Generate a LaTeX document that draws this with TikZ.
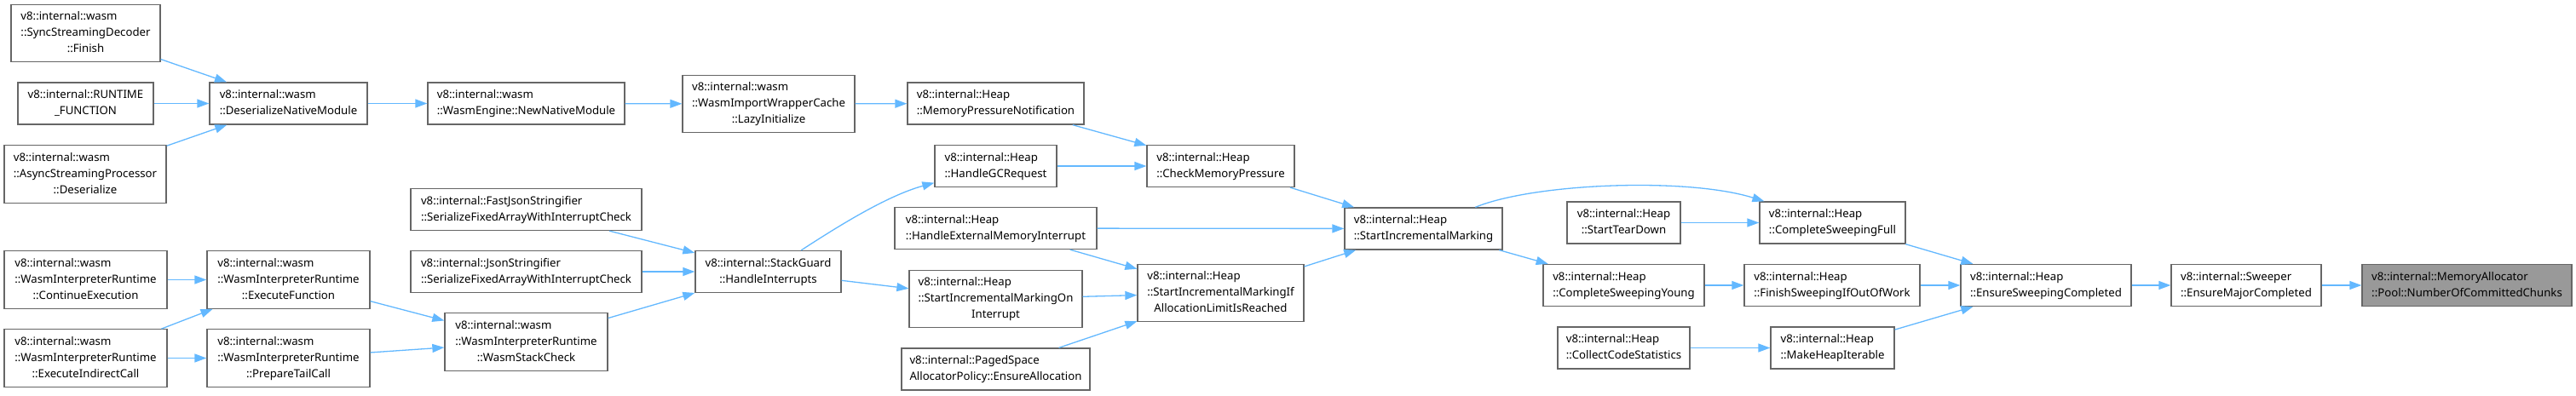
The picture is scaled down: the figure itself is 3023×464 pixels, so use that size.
\documentclass[tikz,border=0pt]{standalone}
\usepackage{fontspec}
\setmainfont{Noto Sans}
\usetikzlibrary{arrows.meta}
\definecolor{edgeblue}{HTML}{63B8FF}
\definecolor{boxgray}{HTML}{666666}
\definecolor{curgray}{HTML}{999999}
\newcommand{\fnl}[2]{\begin{tabular}{@{}l@{}}#1\\\multicolumn{1}{@{}c@{}}{#2}\end{tabular}}
\begin{document}
\begin{tikzpicture}[x=1pt, y=1pt, font=\fontsize{13.2}{19}\selectfont,
          >={Triangle[length=14pt,width=10pt]},
          fnbox/.style={draw=boxgray, line width=1.3pt, fill=white, inner sep=0pt, minimum height=49pt},
          tall/.style={minimum height=67.5pt},
          curfn/.style={fnbox, fill=curgray},
          call/.style={->, draw=edgeblue, line width=1.3pt}]
        \useasboundingbox (0,0) rectangle (3023,-464);
        \node[fnbox, tall, minimum width=175pt] (ssd) at (100.5,-39) {\fnl{v8::internal::wasm\\::SyncStreamingDecoder}{::Finish}};
        \node[fnbox, minimum width=159pt] (rtf) at (100.5,-121.5) {\fnl{v8::internal::RUNTIME}{\_FUNCTION}};
        \node[fnbox, tall, minimum width=190pt] (asp) at (100,-204.5) {\fnl{v8::internal::wasm\\::AsyncStreamingProcessor}{::Deserialize}};
        \node[fnbox, tall, minimum width=191pt] (contexec) at (100.5,-328.5) {\fnl{v8::internal::wasm\\::WasmInterpreterRuntime}{::ContinueExecution}};
        \node[fnbox, tall, minimum width=191pt] (indcall) at (100.5,-420.5) {\fnl{v8::internal::wasm\\::WasmInterpreterRuntime}{::ExecuteIndirectCall}};
        \node[fnbox, minimum width=185pt] (dnm) at (338.5,-121.5) {\fnl{v8::internal::wasm}{::DeserializeNativeModule}};
        \node[fnbox, tall, minimum width=191pt] (execfn) at (338.5,-328.5) {\fnl{v8::internal::wasm\\::WasmInterpreterRuntime}{::ExecuteFunction}};
        \node[fnbox, tall, minimum width=191pt] (tailcall) at (338.5,-420.5) {\fnl{v8::internal::wasm\\::WasmInterpreterRuntime}{::PrepareTailCall}};
        \node[fnbox, minimum width=231pt] (nnm) at (617.5,-121.5) {\fnl{v8::internal::wasm}{::WasmEngine::NewNativeModule}};
        \node[fnbox, minimum width=271pt] (fastjson) at (617.5,-246) {\fnl{v8::internal::FastJsonStringifier}{::SerializeFixedArrayWithInterruptCheck}};
        \node[fnbox, minimum width=271pt] (json) at (617.5,-319) {\fnl{v8::internal::JsonStringifier}{::SerializeFixedArrayWithInterruptCheck}};
        \node[fnbox, tall, minimum width=191pt] (stackchk) at (617.5,-401.5) {\fnl{v8::internal::wasm\\::WasmInterpreterRuntime}{::WasmStackCheck}};
        \node[fnbox, tall, minimum width=202pt] (lazy) at (902,-122) {\fnl{v8::internal::wasm\\::WasmImportWrapperCache}{::LazyInitialize}};
        \node[fnbox, minimum width=171pt] (guard) at (901.5,-319) {\fnl{v8::internal::StackGuard}{::HandleInterrupts}};
        \node[fnbox, minimum width=207pt] (mpn) at (1168.5,-121.5) {\fnl{v8::internal::Heap}{::MemoryPressureNotification}};
        \node[fnbox, minimum width=143pt] (gcreq) at (1168.5,-195) {\fnl{v8::internal::Heap}{::HandleGCRequest}};
        \node[fnbox, minimum width=237pt] (hemi) at (1168.5,-268) {\fnl{v8::internal::Heap}{::HandleExternalMemoryInterrupt}};
        \node[fnbox, tall, minimum width=203pt] (simoi) at (1168.5,-351) {\fnl{v8::internal::Heap\\::StartIncrementalMarkingOn}{Interrupt}};
        \node[fnbox, minimum width=221pt] (paged) at (1168.5,-433.5) {\fnl{v8::internal::PagedSpace}{AllocatorPolicy::EnsureAllocation}};
        \node[fnbox, minimum width=173pt] (cmp) at (1432.5,-195) {\fnl{v8::internal::Heap}{::CheckMemoryPressure}};
        \node[fnbox, tall, minimum width=195pt] (simif) at (1432.5,-344) {\fnl{v8::internal::Heap\\::StartIncrementalMarkingIf}{AllocationLimitIsReached}};
        \node[fnbox, minimum width=185pt] (startmark) at (1670.5,-268.5) {\fnl{v8::internal::Heap}{::StartIncrementalMarking}};
        \node[fnbox, minimum width=133pt] (teardown) at (1905.5,-261.5) {\fnl{v8::internal::Heap}{::StartTearDown}};
        \node[fnbox, minimum width=189pt] (young) at (1905.5,-335) {\fnl{v8::internal::Heap}{::CompleteSweepingYoung}};
        \node[fnbox, minimum width=155pt] (codestats) at (1905.5,-408.5) {\fnl{v8::internal::Heap}{::CollectCodeStatistics}};
        \node[fnbox, minimum width=171pt] (full) at (2150.5,-261.5) {\fnl{v8::internal::Heap}{::CompleteSweepingFull}};
        \node[fnbox, minimum width=206pt] (finish) at (2150,-335) {\fnl{v8::internal::Heap}{::FinishSweepingIfOutOfWork}};
        \node[fnbox, minimum width=145pt] (iterable) at (2150.5,-408.5) {\fnl{v8::internal::Heap}{::MakeHeapIterable}};
        \node[fnbox, minimum width=200pt] (ensure) at (2401,-335) {\fnl{v8::internal::Heap}{::EnsureSweepingCompleted}};
        \node[fnbox, minimum width=176pt] (major) at (2636,-335) {\fnl{v8::internal::Sweeper}{::EnsureMajorCompleted}};
        \node[curfn, minimum width=246pt] (chunks) at (2895,-335) {\fnl{v8::internal::MemoryAllocator}{::Pool::NumberOfCommittedChunks}};
        \draw[call] (ssd) -- (dnm);
        \draw[call] (rtf) -- (dnm);
        \draw[call] (asp) -- (dnm);
        \draw[call] (dnm) -- (nnm);
        \draw[call] (nnm) -- (lazy);
        \draw[call] (lazy) -- (mpn);
        \draw[call] (mpn) -- (cmp);
        \draw[call] (gcreq) -- (cmp);
        \draw[call] (cmp) -- (startmark);
        \draw[call] (hemi) -- (startmark);
        \draw[call] (hemi) -- (simif);
        \draw[call] (simoi) -- (simif);
        \draw[call] (paged) -- (simif);
        \draw[call] (simif) -- (startmark);
        \draw[call] (guard) .. controls (980,-268) and (1040,-230) .. (gcreq);
        \draw[call] (guard) -- (simoi);
        \draw[call] (fastjson) -- (guard);
        \draw[call] (json) -- (guard);
        \draw[call] (stackchk) -- (guard);
        \draw[call] (contexec) -- (execfn);
        \draw[call] (indcall) -- (execfn);
        \draw[call] (indcall) -- (tailcall);
        \draw[call] (execfn) -- (stackchk);
        \draw[call] (tailcall) -- (stackchk);
        \draw[call] (startmark) .. controls (1800,-215) and (1980,-208) .. (full);
        \draw[call] (startmark) -- (young);
        \draw[call] (teardown) -- (full);
        \draw[call] (young) -- (finish);
        \draw[call] (codestats) -- (iterable);
        \draw[call] (full) -- (ensure);
        \draw[call] (finish) -- (ensure);
        \draw[call] (iterable) -- (ensure);
        \draw[call] (ensure) -- (major);
        \draw[call] (major) -- (chunks);
      \end{tikzpicture}
\end{document}
